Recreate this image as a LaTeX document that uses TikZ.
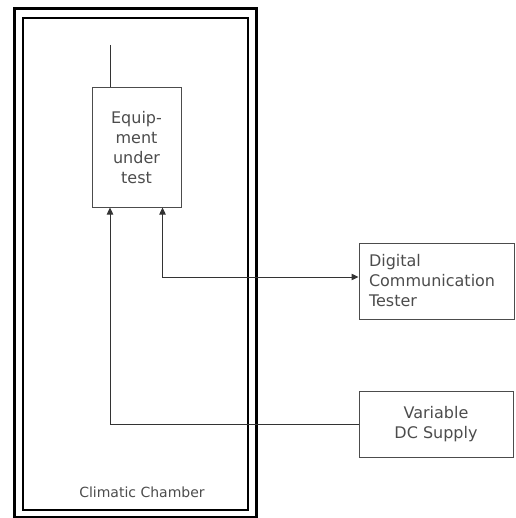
\documentclass[tikz,border=0pt]{standalone}
\usepackage{fontspec}
\setmainfont{DejaVu Sans}
\usetikzlibrary{calc,arrows.meta,positioning}

\begin{document}
\begin{tikzpicture}[x=0.5pt,y=-0.5pt,
	every node/.style={font=\fontsize{8}{10}\selectfont,text=black!70},
	unit/.style={draw=black!70,line width=0.5pt,inner sep=0pt,align=center},
	link/.style={draw=black!80,line width=0.5pt},
	tip/.style={-{Triangle[length=3.5pt,width=3.2pt]}},
	dtip/.style={{Triangle[length=3.5pt,width=3.2pt]}-{Triangle[length=3.5pt,width=3.2pt]}}]
		\useasboundingbox (0,0) rectangle (515,518);
		
		\node (chamberout) [draw,line width=1.5pt,minimum width=121pt,minimum height=254pt,inner sep=0pt] at (135,263) {};
		\node (chamber) [draw,line width=1pt,minimum width=112.5pt,minimum height=246pt,inner sep=0pt] at (135.5,264) {};
		\node (chamberlabel) [font=\fontsize{7}{9}\selectfont] at (142,492) {Climatic Chamber};
		
		\node (eut) [unit,minimum width=44.5pt,minimum height=59.5pt] at (136.5,147.5) {Equip-\\ment\\under\\test};
		\node (tester) [unit,minimum width=77.5pt,minimum height=38pt,inner xsep=5pt,text width=67.5pt,align=left] at (436.5,281) {Digital\\Communication\\Tester};
		\node (supply) [unit,minimum width=77pt,minimum height=33pt] at (436,424) {Variable\\DC Supply};
		
		\coordinate (lead) at (110,45);
		\coordinate (port) at ($(eut.south east)+(-19,0)$);
		
		\draw[link] (lead) -- (lead |- eut.north);
		\draw[link,tip] (supply.west) -| (lead |- eut.south);
		\draw[link,dtip] (port) |- ($(tester.west)+(0,-4)$);
	\end{tikzpicture}
\end{document}
